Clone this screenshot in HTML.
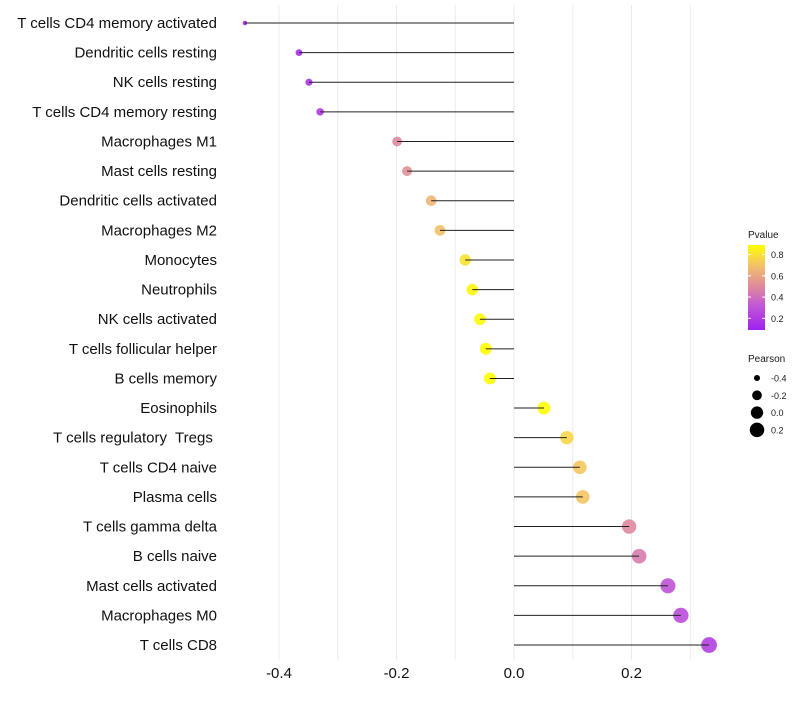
<!DOCTYPE html>
<html><head><meta charset="utf-8"><style>
body{margin:0;background:#fff;}
svg text{font-family:"Liberation Sans",sans-serif;white-space:pre;}
</style></head><body>
<svg id="chart" width="800" height="700" xmlns="http://www.w3.org/2000/svg">
<rect width="800" height="700" fill="#fff"/>
<g id="grid"></g><g id="marks"></g><g id="labels"></g><g id="xticks"></g><g id="legend"></g>
</svg>
<script>
const categories = ["T cells CD4 memory activated","Dendritic cells resting","NK cells resting","T cells CD4 memory resting","Macrophages M1","Mast cells resting","Dendritic cells activated","Macrophages M2","Monocytes","Neutrophils","NK cells activated","T cells follicular helper","B cells memory","Eosinophils","T cells regulatory  Tregs ","T cells CD4 naive","Plasma cells","T cells gamma delta","B cells naive","Mast cells activated","Macrophages M0","T cells CD8"];
const pearson = [-0.458,-0.366,-0.349,-0.330,-0.199,-0.182,-0.141,-0.126,-0.083,-0.071,-0.058,-0.048,-0.041,0.051,0.090,0.112,0.117,0.196,0.213,0.262,0.284,0.332];
const pvalue = [0.09,0.15,0.17,0.2,0.5,0.52,0.66,0.7,0.8,0.86,0.87,0.89,0.9,0.88,0.76,0.72,0.71,0.5,0.45,0.3,0.27,0.22];
const xTicks = [-0.4,-0.2,0.0,0.2];
const xMinor = [-0.3,-0.1,0.1,0.3];
const pTicks = [0.2,0.4,0.6,0.8];
const sizeTicks = [-0.4,-0.2,0.0,0.2];

const NS="http://www.w3.org/2000/svg";
function mk(t,a,p){const e=document.createElementNS(NS,t);for(const k in a)e.setAttribute(k,a[k]);p.appendChild(e);return e;}
const x = v => 514 + v*587.5;
const y = i => 23 + i*29.62;
const pMin=0.09,pMax=0.89;
const stops=[[0,[160,32,240]],[0.3,[195,90,210]],[0.52,[224,140,155]],[0.75,[242,190,110]],[1,[255,255,0]]];
function col(p){let t=Math.max(0,Math.min(1,(p-pMin)/(pMax-pMin)));for(let i=1;i<stops.length;i++){if(t<=stops[i][0]){const a=stops[i-1],b=stops[i];const f=(t-a[0])/(b[0]-a[0]);const c=a[1].map((v,j)=>Math.round(v+(b[1][j]-v)*f));return `rgb(${c})`;}}return "rgb(255,255,0)";}
const rad = v => Math.sqrt(5 + Math.max(0,(v+0.46))*72);

const grid=document.getElementById('grid');
xTicks.concat(xMinor).forEach(v=>{const l=mk('line',{x1:x(v),x2:x(v),y1:5,y2:660,stroke:'#ebebeb','stroke-width':1},grid);

});

const marks=document.getElementById('marks'), labels=document.getElementById('labels');
categories.forEach((c,i)=>{
 const pt=mk('circle',{cx:x(pearson[i]),cy:y(i),r:rad(pearson[i]),fill:col(pvalue[i]),'fill-opacity':0.9},marks);
 
 
 const s=mk('line',{x1:x(0),x2:x(pearson[i]),y1:y(i),y2:y(i),stroke:'#222','stroke-width':1},marks);
 
 
 const t=mk('text',{x:217,y:y(i)+5,'text-anchor':'end','font-size':15,fill:'#111'},labels);
 t.textContent=c;
 
 
});
const xt=document.getElementById('xticks');
xTicks.forEach(v=>{const t=mk('text',{x:x(v),y:678,'text-anchor':'middle','font-size':15,fill:'#111'},xt);t.textContent=v.toFixed(1);

});

const lg=document.getElementById('legend');
const tt=mk('text',{x:748,y:238,'font-size':10,fill:'#1a1a1a'},lg);tt.textContent='Pvalue';


const defs=mk('defs',{},lg);const gr=mk('linearGradient',{id:'pg',x1:0,y1:1,x2:0,y2:0},defs);
for(let k=0;k<=10;k++){mk('stop',{offset:k/10,'stop-color':col(pMin+(pMax-pMin)*k/10)},gr);}
const bar=mk('rect',{x:748,y:245,width:17,height:85,fill:'url(#pg)'},lg);


const py=p=>330-(p-pMin)/(pMax-pMin)*85;
pTicks.forEach(p=>{mk('line',{x1:748,x2:751,y1:py(p),y2:py(p),stroke:'#fff'},lg);mk('line',{x1:762,x2:765,y1:py(p),y2:py(p),stroke:'#fff'},lg);
const t=mk('text',{x:771,y:py(p)+3.5,'font-size':9,fill:'#1a1a1a'},lg);t.textContent=p.toFixed(1);

});
const t2=mk('text',{x:748,y:362,'font-size':10,fill:'#1a1a1a'},lg);t2.textContent='Pearson';


sizeTicks.forEach((v,k)=>{const cy=378+k*17.3;const c=mk('circle',{cx:757,cy:cy,r:rad(v),fill:'#000'},lg);


const t=mk('text',{x:771,y:cy+3.5,'font-size':9,fill:'#1a1a1a'},lg);t.textContent=v.toFixed(1);

});
</script>
</body></html>
